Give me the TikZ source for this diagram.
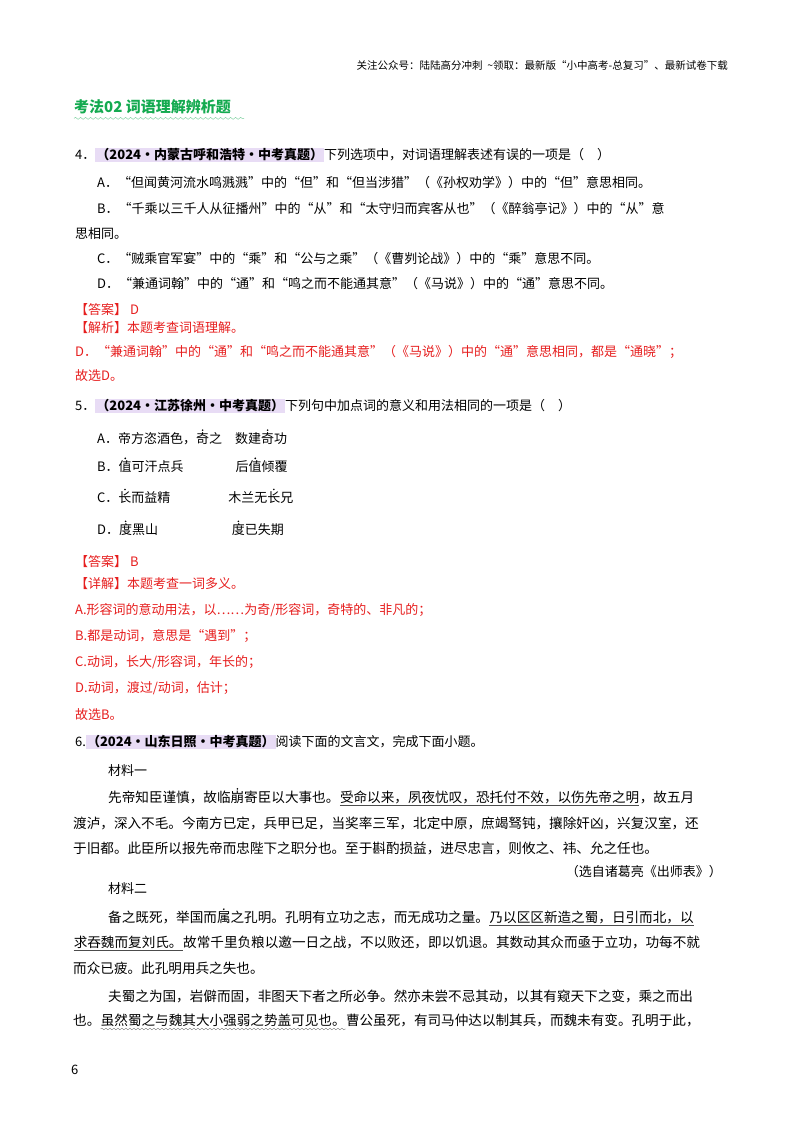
\documentclass[tikz,border=0pt]{standalone}
\usepackage{fontspec}
\setmainfont{Noto Sans CJK SC}
\usetikzlibrary{decorations.pathmorphing}
\definecolor{ansred}{RGB}{230,30,30}
\definecolor{ttlgreen}{RGB}{20,170,80}
\definecolor{hl}{RGB}{232,220,245}
\newcommand\emd[1]{\tikz[baseline=(c.base)]{\node[inner sep=0pt](c){#1};\fill ([yshift=2pt]c.north) circle[radius=0.9pt];}}
\newcommand\uln[1]{\tikz[baseline=(c.base)]{\node[inner sep=0pt](c){#1};\draw[gray!60!black,line width=0.8pt] ([yshift=-1.5pt]c.south west)--([yshift=-1.5pt]c.south east);}}
\newcommand\wvy[1]{\tikz[baseline=(c.base)]{\node[inner sep=0pt](c){#1};\draw[gray,decorate,decoration={snake,amplitude=0.8pt,segment length=4pt}] ([yshift=-2pt]c.south west)--([yshift=-2pt]c.south east);}}
\tikzset{x=1pt,y=-1pt,
 txt/.style={anchor=west,inner sep=0pt,font=\fontsize{13}{15}\selectfont},
 anc/.style={anchor=west,inner sep=0pt,font=\fontsize{13.6}{15}\selectfont},
 red/.style={txt,text=ansred},
 tag/.style={fill=hl,inner sep=1pt,font=\fontsize{13}{15}\selectfont\bfseries}}
\begin{document}
\begin{tikzpicture}
\useasboundingbox (0,0) rectangle (800,1132);
\node[anchor=east,inner sep=0pt,font=\fontsize{10.5}{12}\selectfont] (hdr) at (728,65) {关注公众号：陆陆高分冲刺\ \ \~{}领取：最新版“小中高考-总复习”、最新试卷下载};
\node[anchor=west,inner sep=0pt,text=ttlgreen,font=\fontsize{15}{17}\selectfont\bfseries] (ttl) at (74,107) {考法02 词语理解辨析题};
\draw[ttlgreen!60,decorate,decoration={snake,amplitude=1pt,segment length=5pt}] (ttl.south west)++(0,4) -- ++(170,0);
% Q4
\node[txt] (q4) at (75,155) {4．\tikz[baseline=(t.base)]\node[tag](t){（2024·内蒙古呼和浩特·中考真题）};下列选项中，对词语理解表述有误的一项是（\quad）};
\node[txt] (q4a) at (97,183) {A．“但闻黄河流水鸣溅溅”中的“但”和“但当涉猎”（《孙权劝学》）中的“但”意思相同。};
\node[txt] (q4b) at (97,209) {B．“千乘以三千人从征播州”中的“从”和“太守归而宾客从也”（《醉翁亭记》）中的“从”意};
\node[txt] (q4b2) at (75,234) {思相同。};
\node[txt] (q4c) at (97,259) {C．“贼乘官军宴”中的“乘”和“公与之乘”（《曹刿论战》）中的“乘”意思不同。};
\node[txt] (q4d) at (97,284) {D．“兼通词翰”中的“通”和“鸣之而不能通其意”（《马说》）中的“通”意思不同。};
\node[red] (a4) at (75,310) {【答案】 D};
\node[red] (j4) at (75,328) {【解析】本题考查词语理解。};
\node[red] (j4b) at (75,352) {D．“兼通词翰”中的“通”和“鸣之而不能通其意”（《马说》）中的“通”意思相同，都是“通晓”；};
\node[red] (j4c) at (75,376) {故选D。};
% Q5
\node[txt] (q5) at (75,406) {5．\tikz[baseline=(t.base)]\node[tag](t){（2024·江苏徐州·中考真题）};下列句中加点词的意义和用法相同的一项是（\quad）};
\node[txt] (q5a) at (97,437) {A．帝方恣酒色，\emd{奇}之\quad 数建\emd{奇}功};
\node[txt] (q5b) at (97,465) {B．\emd{值}可汗点兵\qquad\qquad 后\emd{值}倾覆};
\node[txt] (q5c) at (97,496) {C．\emd{长}而益精\qquad\qquad\ \ 木兰无\emd{长}兄};
\node[txt] (q5d) at (97,528) {D．\emd{度}黑山\qquad\qquad\quad\ \ \ \emd{度}已失期};
\node[red] (a5) at (75,562) {【答案】 B};
\node[red] (j5) at (75,584) {【详解】本题考查一词多义。};
\node[red] (j5a) at (75,610) {A.形容词的意动用法，以……为奇/形容词，奇特的、非凡的；};
\node[red] (j5b) at (75,636) {B.都是动词，意思是“遇到”；};
\node[red] (j5c) at (75,662) {C.动词，长大/形容词，年长的；};
\node[red] (j5d) at (75,688) {D.动词，渡过/动词，估计；};
\node[red] (j5e) at (75,715) {故选B。};
% Q6
\node[txt] (q6) at (75,742) {6.\tikz[baseline=(t.base)]\node[tag](t){（2024·山东日照·中考真题）};阅读下面的文言文，完成下面小题。};
\node[txt] (m1) at (108,771) {材料一};
\node[anc] (m1a) at (108,797) {先帝知臣谨慎，故临\emd{崩}寄臣以大事也。\uln{受命以来，夙夜忧叹，恐托付不效，以伤先帝之明}，故五月};
\node[anc] (m1b) at (73,823) {渡泸，深入不毛。今南方已定，兵甲已足，当奖率三军，北定中原，庶竭驽钝，攘除奸凶，兴复汉室，还};
\node[anc] (m1c) at (73,848) {于旧都。此臣所以报先帝而忠陛下之职分也。至于斟酌损益，进尽忠言，则攸之、祎、允之任也。};
\node[anchor=east,inner sep=0pt,font=\fontsize{13}{15}\selectfont] (src) at (722,872) {（选自诸葛亮《出师表》）};
\node[txt] (m2) at (108,889) {材料二};
\node[anc] (m2a) at (108,917) {备之既死，举国而\emd{属}之孔明。孔明有立功之志，而无成功之量。\uln{乃以区区新造之蜀，日引而北，以}};
\node[anc] (m2b) at (73,943) {\uln{求吞魏而复刘氏。}故常千里负粮以邀一日之战，不以败还，即以饥退。其数动其众而亟于立功，功每不就};
\node[anc] (m2c) at (73,968) {而众已疲。此孔明用兵之失也。};
\node[anc] (m2d) at (108,996) {夫蜀之为国，岩僻而固，非图天下者之所必争。然亦未尝不忌其动，以其有窥天下之变，乘之而出};
\node[anc] (m2e) at (73,1022) {也。\wvy{虽然蜀之与魏其大小强弱之势盖可见也。}曹公虽死，有司马仲达以制其兵，而魏未有变。孔明于此，};
\node[anchor=west,inner sep=0pt,font=\fontsize{13}{15}\selectfont] (pg) at (71,1070) {6};
\end{tikzpicture}
\end{document}
